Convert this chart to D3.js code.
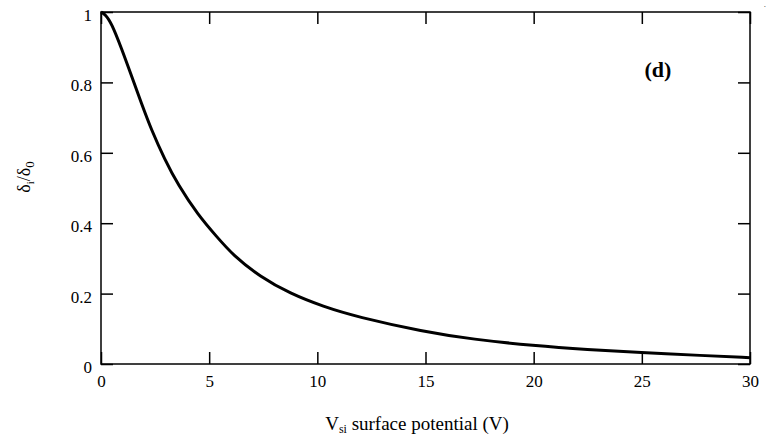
<!DOCTYPE html>
<html>
<head>
<meta charset="utf-8">
<script src="https://cdn.jsdelivr.net/npm/d3@7"></script>
<style>
  body { margin: 0; background: #fff; }
  text { font-family: "Liberation Serif", "Times New Roman", serif; fill: #000; }
</style>
</head>
<body>
<div id="chart"></div>
<script>

// values
var vsi   = [0, 0.2, 0.48, 0.94, 1.4, 1.86, 2.33, 2.94, 3.56, 4.48, 5.33, 6.12, 7.35, 8.74, 10.28, 11.82, 14.9, 17.2, 20.0, 22.5, 24.9, 27.8, 30];
var ratio = [1, 0.993, 0.969, 0.898, 0.82, 0.742, 0.665, 0.582, 0.509, 0.424, 0.363, 0.308, 0.248, 0.2, 0.163, 0.134, 0.092, 0.070, 0.052, 0.041, 0.033, 0.024, 0.018];

var xTicks = [0, 5, 10, 15, 20, 25, 30];
var yTicks = [0, 0.2, 0.4, 0.6, 0.8, 1];
var yTickLabels = ["0", "0.2", "0.4", "0.6", "0.8", "1"];

var chart_width  = 772;
var chart_height = 441;
// plot frame (note: "top" is reserved on window, so use plot_*)
var plot_left = 101, plot_right = 750, plot_top = 12, plot_bottom = 364;

var svg = d3.select('#chart')
  .append('svg')
  .attr('width', chart_width)
  .attr('height', chart_height);

var x_scale = d3.scaleLinear().domain([0, 30]).range([plot_left, plot_right]);
var y_scale = d3.scaleLinear().domain([0, 1]).range([plot_bottom, plot_top]);

// bottom axis with labels, ticks pointing inward
var x_axis = d3.axisBottom(x_scale).tickValues(xTicks)
  .tickSizeInner(-12).tickSizeOuter(0).tickPadding(11)
  .tickFormat(d3.format('d'));
var gx = svg.append('g')
  .attr('transform', 'translate(0,' + plot_bottom + ')')
  .call(x_axis);

var y_axis = d3.axisLeft(y_scale).tickValues(yTicks)
  .tickSizeInner(-12).tickSizeOuter(0).tickPadding(9)
  .tickFormat(function(d, i) { return yTickLabels[i]; });
var gy = svg.append('g')
  .attr('transform', 'translate(' + plot_left + ',0)')
  .call(y_axis);

// mirrored ticks on top and right, no labels
var gt = svg.append('g')
  .attr('transform', 'translate(0,' + plot_top + ')')
  .call(d3.axisTop(x_scale).tickValues(xTicks).tickSizeInner(-12).tickSizeOuter(0).tickFormat(''));
var gr = svg.append('g')
  .attr('transform', 'translate(' + plot_right + ',0)')
  .call(d3.axisRight(y_scale).tickValues(yTicks).tickSizeInner(-12).tickSizeOuter(0).tickFormat(''));

[gx, gy, gt, gr].forEach(function(g) {
  g.attr('font-family', '"Liberation Serif", "Times New Roman", serif').attr('font-size', 17);
  g.select('.domain').remove();
  g.selectAll('line').attr('stroke', '#000').attr('stroke-width', 1.5);
  g.selectAll('text').attr('fill', '#000');
});
gy.selectAll('text').attr('dy', '0.5em');

svg.append('rect')
  .attr('x', plot_left).attr('y', plot_top)
  .attr('width', plot_right - plot_left).attr('height', plot_bottom - plot_top)
  .attr('fill', 'none').attr('stroke', '#000').attr('stroke-width', 1.5);

var line = d3.line()
  .x(function(d) { return x_scale(d[0]); })
  .y(function(d) { return y_scale(d[1]); })
  .curve(d3.curveBasis);

svg.append('path')
  .datum(vsi.map(function(v, i) { return [v, ratio[i]]; }))
  .attr('d', line)
  .attr('fill', 'none')
  .attr('stroke', '#000')
  .attr('stroke-width', 3);

// y label
var yl = svg.append('text')
  .attr('transform', 'translate(30,177) rotate(-90)')
  .attr('text-anchor', 'middle')
  .style('font-size', '18px');
yl.append('tspan').text('δ');
yl.append('tspan').attr('dy', 4).style('font-size', '11px').text('i');
yl.append('tspan').attr('dy', -4).text('/δ');
yl.append('tspan').attr('dy', 4).style('font-size', '13px').text('0');

// x label
var xl = svg.append('text')
  .attr('x', 417).attr('y', 430)
  .attr('text-anchor', 'middle')
  .style('font-size', '19px');
xl.append('tspan').text('V');
xl.append('tspan').attr('dy', 3).style('font-size', '12px').text('si');
xl.append('tspan').attr('dy', -3).text(' surface potential (V)');

svg.append('text')
  .attr('x', 658).attr('y', 77)
  .attr('text-anchor', 'middle')
  .style('font-size', '22px')
  .style('font-weight', 'bold')
  .text('(d)');

svg.append('text')
  .attr('x', 764).attr('y', 7)
  .style('font-size', '7px')
  .text('.');
</script>
</body>
</html>
